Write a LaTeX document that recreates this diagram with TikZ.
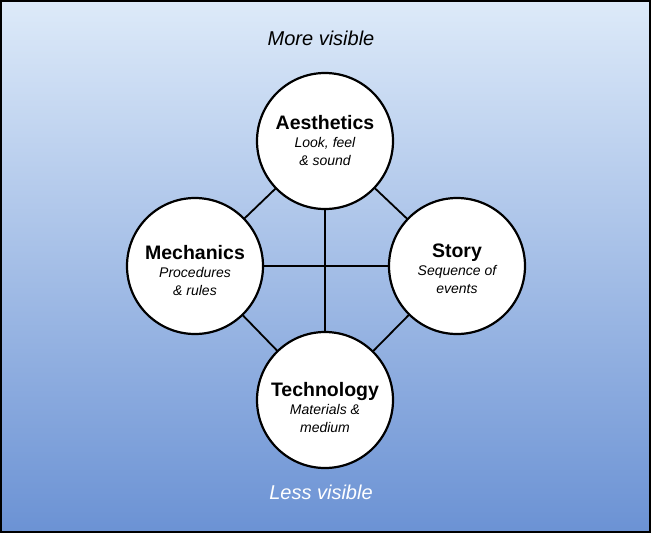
\documentclass[tikz,border=0pt]{standalone}
\usepackage{fontspec}
\setmainfont{Liberation Sans}
\definecolor{skytop}{RGB}{221,234,249}
\definecolor{skybottom}{RGB}{107,146,212}
\tikzset{vertex/.style = {shape=circle,draw,fill=white,line width=2.2pt,minimum size=136pt,inner sep=0pt}}
\tikzset{caption/.style = {anchor=base,align=center,inner sep=0pt,font=\fontsize{14}{17.5}\selectfont\itshape}}
\tikzset{edge/.style = {line width=1.8pt}}
\tikzset{hint/.style = {font=\fontsize{20}{24}\selectfont\itshape}}
\newcommand{\ctitle}[1]{{\fontsize{19.5}{18}\selectfont\bfseries\upshape #1}}

\begin{document}
\begin{tikzpicture}[x=1pt,y=-1pt]
		
		% frame
		\useasboundingbox (0,0) rectangle (651,533);
		\shade[top color=skytop,bottom color=skybottom] (0,0) rectangle (651,533);
		\draw[line width=2pt] (1,1) rectangle (650,532);
		
		% centres
		\coordinate (ac) at (325,141);
		\coordinate (mc) at (195,266);
		\coordinate (sc) at (457,266);
		\coordinate (tc) at (325,400);
		
		%edges
		\draw[edge] (ac) -- (mc) -- (tc) -- (sc) -- (ac);
		\draw[edge] (ac) -- (tc);
		\draw[edge] (mc) -- (sc);
		
		% vertices
		\node[vertex] (a) at (ac) {};
		\node[vertex] (m) at (mc) {};
		\node[vertex] (s) at (sc) {};
		\node[vertex] (t) at (tc) {};
		
		% texts (base = last line)
		\node[caption] (a-text) at (325,165) {\ctitle{Aesthetics}\\[1pt]Look, feel\\\& sound};
		\node[caption] (m-text) at (195,295) {\ctitle{Mechanics}\\[1pt]Procedures\\\& rules};
		\node[caption] (s-text) at (457,293) {\ctitle{Story}\\[1pt]Sequence of\\events};
		\node[caption] (t-text) at (325,432) {\ctitle{Technology}\\[1pt]Materials \&\\medium};
		
		% labels
		\node[hint] (more) at (321,38) {More visible};
		\node[hint,text=white] (less) at (321,492) {Less visible};
	\end{tikzpicture}
\end{document}
